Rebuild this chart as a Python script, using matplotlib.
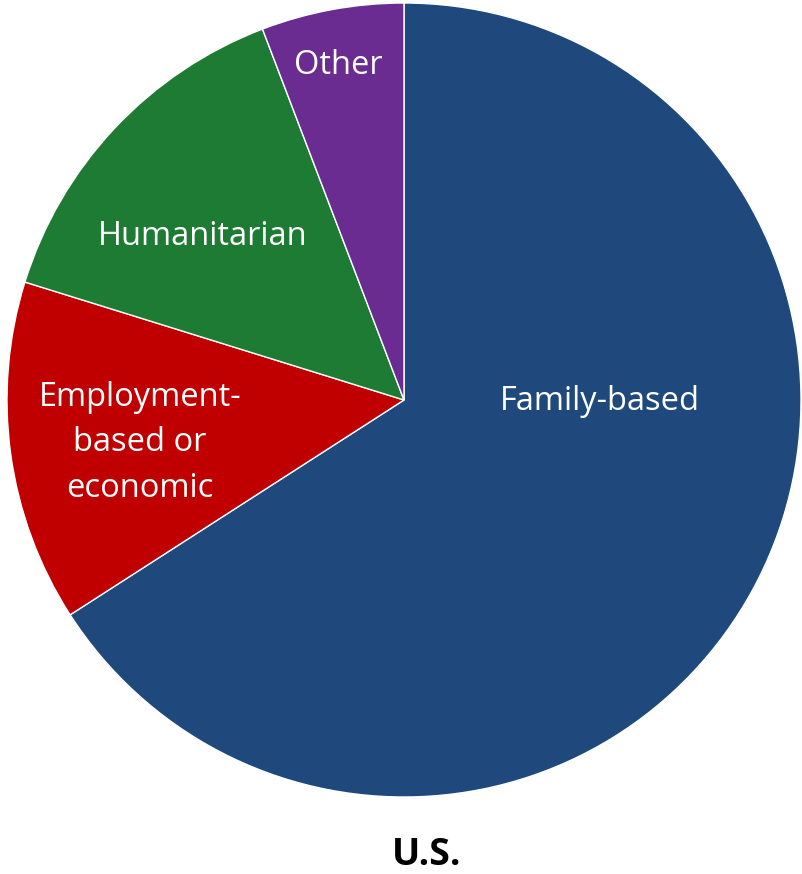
import matplotlib.pyplot as plt

# Data (shares, %)
categories = ['Family-based', 'Employment-\nbased or\neconomic', 'Humanitarian', 'Other']
shares = [65.9, 13.9, 14.4, 5.8]
colors = ['#1F497D', '#C00000', '#1E7B34', '#6A2C91']
title = 'U.S.'

plt.rcParams['font.family'] = ['Open Sans', 'DejaVu Sans']

fig = plt.figure(figsize=(8.02, 8.74), dpi=100)
ax = fig.add_axes([7 / 802, 77 / 874, 794 / 802, 794 / 874])

wedges, _ = ax.pie(shares, colors=colors, startangle=90, counterclock=False,
                   radius=1.0, wedgeprops=dict(edgecolor='white', linewidth=1.0))
ax.set_xlim(-1, 1)
ax.set_ylim(-1, 1)
ax.set_aspect('equal')
ax.axis('off')

# label positions (relative to pie centre, in radii)
label_pos = [(0.494, -0.003), (-0.665, -0.108), (-0.506, 0.412), (-0.166, 0.843)]
for name, (x, y) in zip(categories, label_pos):
    ax.text(x, y, name, ha='center', va='center', color='white',
            fontsize=23.5, linespacing=1.5)

fig.text(427 / 802, 1 - 855 / 874, title, ha='center', va='center',
         fontsize=27, fontweight='bold')

fig.savefig('out.png', dpi=100)
